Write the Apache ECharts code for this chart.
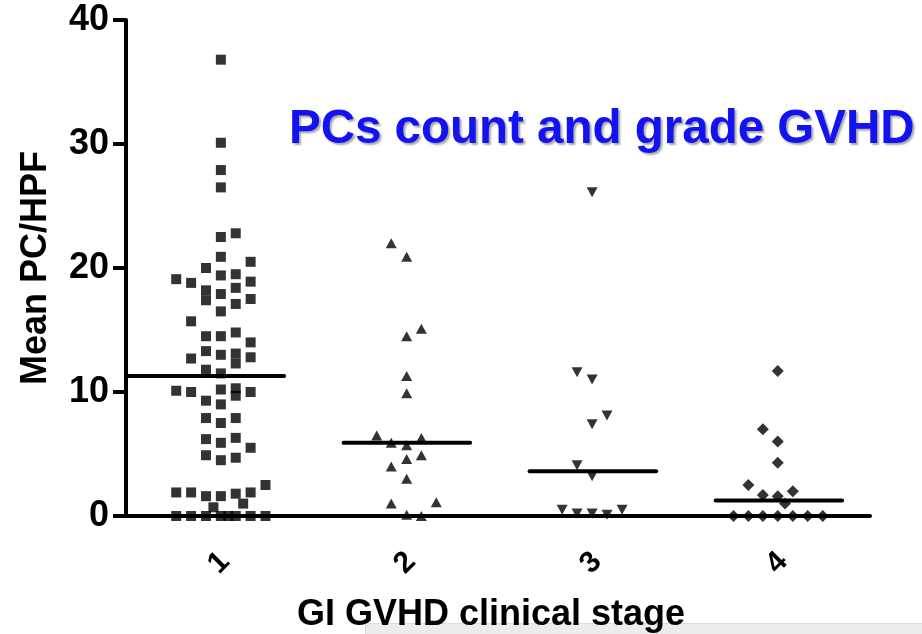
<!DOCTYPE html>
<html><head><meta charset="utf-8">
<script src="https://cdn.jsdelivr.net/npm/echarts@6/dist/echarts.min.js"></script>
<style>html,body{margin:0;padding:0;background:#fff}#c{width:922px;height:634px}</style>
</head><body><div id="c"></div>
<script>
// ---- data ----
const categories = ['1', '2', '3', '4'];
const yTickValues = [0, 10, 20, 30, 40];
const chartTitle = 'PCs count and grade GVHD';
const xAxisTitle = 'GI GVHD clinical stage';
const yAxisTitle = 'Mean PC/HPF';

const stage1Values = [36.8,30.1,27.9,26.5,22.5,22.8,20.9,20.5,20.0,19.1,18.8,19.4,19.5,18.9,18.2,17.4,17.9,18.4,17.5,17.1,16.5,15.7,14.5,14.5,14.8,14.0,13.3,13.0,13.1,12.3,12.8,12.7,11.8,11.5,10.1,10.0,10.2,10.3,9.7,10.0,9.3,9.0,7.9,7.5,7.9,6.2,5.9,6.3,5.5,4.9,4.5,4.7,2.5,1.9,1.9,1.6,1.6,1.8,1.9,0.7,1.0,0,0,0,0,0,0,0,0];
const stage1Jitter = [0.01,0.01,0.01,0.01,0.01,0.09,0.01,0.17,-0.07,-0.23,-0.15,0.01,0.09,0.17,-0.07,-0.07,0.01,0.09,0.17,0.09,0.01,-0.15,-0.07,0.01,0.09,0.17,-0.07,0.01,0.09,0.09,0.17,-0.15,-0.07,0.01,-0.23,-0.15,0.01,0.09,0.09,0.17,-0.07,0.01,-0.07,0.01,0.09,-0.07,0.01,0.09,0.17,-0.07,0.01,0.09,0.25,-0.23,-0.15,-0.07,0.01,0.09,0.17,-0.03,0.13,-0.23,-0.15,-0.07,0.01,0.05,0.09,0.17,0.25];

const stage2Values = [22.0,20.9,15.1,14.5,11.3,9.9,6.5,5.9,5.7,6.3,4.6,4.9,4.0,3.0,1.0,1.1,0.1,0];
const stage2Jitter = [-0.074,0.009,0.088,0.009,0.009,0.009,-0.152,-0.074,0.009,0.088,0.009,0.088,-0.074,0.009,-0.074,0.168,0.009,0.088];

const stage3Values = [26.1,11.6,11.0,8.1,7.4,4.1,3.2,0.5,0.2,0.2,0.1,0.5];
const stage3Jitter = [0.006,-0.075,0.006,0.086,0.006,-0.075,0.006,-0.155,-0.075,0.006,0.086,0.167];

const stage4Values = [11.7,7.0,6.0,4.3,2.5,1.7,1.6,2.0,1.0,0,0,0,0,0,0,0];
const stage4Jitter = [0.004,-0.076,0.004,0.004,-0.154,-0.076,0.004,0.085,0.043,-0.234,-0.154,-0.076,0.004,0.085,0.165,0.246];

const groupCenterLines = [11.3, 5.9, 3.6, 1.25];

// ---- build chart ----
const FONT = '"Liberation Sans", Arial, sans-serif';
const groups = [
  { values: stage1Values, jitter: stage1Jitter, symbol: 'rect', size: 10, rotate: 0 },
  { values: stage2Values, jitter: stage2Jitter, symbol: 'triangle', size: [11, 10], rotate: 0 },
  { values: stage3Values, jitter: stage3Jitter, symbol: 'triangle', size: [11, 10], rotate: 180 },
  { values: stage4Values, jitter: stage4Jitter, symbol: 'diamond', size: 12, rotate: 0 }
];
const lineLeft = [0.49, 0.33, 0.33, 0.33];
const lineRight = [0.35, 0.35, 0.35, 0.35];

const series = [];
groups.forEach((g, i) => {
  series.push({
    type: 'scatter', xAxisIndex: 1, yAxisIndex: 0,
    symbol: g.symbol, symbolSize: g.size, symbolRotate: g.rotate,
    itemStyle: { color: '#000' },
    data: g.values.map((v, j) => [i + 1 + g.jitter[j], v]),
    silent: true, z: 3
  });
});
groupCenterLines.forEach((m, i) => {
  series.push({
    type: 'line', xAxisIndex: 1, yAxisIndex: 0,
    symbol: 'none', lineStyle: { color: '#000', width: 4, cap: 'round' },
    data: [[i + 1 - lineLeft[i], m], [i + 1 + lineRight[i], m]],
    silent: true, z: 4
  });
});

const chart = echarts.init(document.getElementById('c'), null, { renderer: 'canvas' });
chart.setOption({
  animation: false,
  backgroundColor: '#fff',
  title: {
    text: chartTitle, left: 289, top: 106, padding: 0,
    textStyle: {
      color: '#1212f2', fontFamily: FONT, fontWeight: 'bold', fontSize: 47.5,
      textShadowColor: 'rgba(0,0,0,0.35)', textShadowBlur: 2, textShadowOffsetX: 2, textShadowOffsetY: 2
    }
  },
  grid: { left: 126, right: 52, top: 20, bottom: 118, containLabel: false, outerBoundsMode: 'none' },
  xAxis: [
    {
      type: 'category', data: categories, boundaryGap: true,
      name: xAxisTitle, nameLocation: 'middle', nameGap: 81,
      nameTextStyle: { color: '#000', fontFamily: FONT, fontWeight: 'bold', fontSize: 36, padding: [0, 14, 0, 0] },
      axisLine: { lineStyle: { color: '#000', width: 4 } },
      axisTick: { alignWithLabel: true, length: 16, lineStyle: { color: '#000', width: 4 } },
      axisLabel: { rotate: 45, align: 'center', verticalAlign: 'middle', margin: 47,
        color: '#000', fontFamily: FONT, fontWeight: 'bold', fontSize: 30 },
      splitLine: { show: false }
    },
    { type: 'value', min: 0.5, max: 4.5, show: false }
  ],
  yAxis: {
    type: 'value', min: 0, max: 40, interval: 10,
    name: yAxisTitle, nameLocation: 'middle', nameGap: 72, nameRotate: 90,
    nameTextStyle: { color: '#000', fontFamily: FONT, fontWeight: 'bold', fontSize: 36 },
    axisLine: { show: true, lineStyle: { color: '#000', width: 4 } },
    axisTick: { show: true, length: 13, lineStyle: { color: '#000', width: 4 } },
    axisLabel: { margin: 17, color: '#000', fontFamily: FONT, fontWeight: 'bold', fontSize: 36,
      formatter: v => (yTickValues.indexOf(v) >= 0 ? String(v) : '') },
    splitLine: { show: false }
  },
  graphic: [
    { type: 'rect', left: 365, top: 623, shape: { width: 557, height: 11 },
      style: { fill: '#ececec', stroke: '#dcdcdc', lineWidth: 1 }, silent: true, z: 0 }
  ],
  series: series
});
</script>
</body></html>
